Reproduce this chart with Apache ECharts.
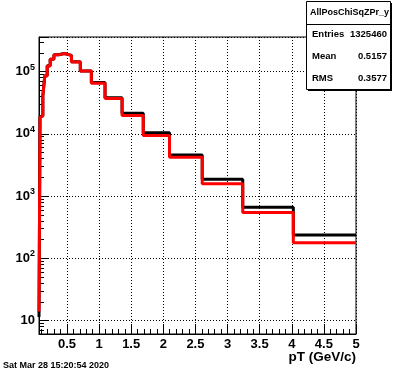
<!DOCTYPE html>
<html>
<head>
<meta charset="utf-8">
<script src="https://cdn.jsdelivr.net/npm/echarts@6/dist/echarts.min.js"></script>
<style>
html, body { margin: 0; padding: 0; background: #fff; }
#chart { width: 396px; height: 372px; }
</style>
</head>
<body>
<div id="chart"></div>
<script>
// bin edges in pT (GeV/c)
const binEdges = [0.065, 0.0808, 0.1004, 0.1247, 0.155, 0.1925, 0.239, 0.297, 0.369, 0.459,
                  0.570, 0.708, 0.880, 1.093, 1.358, 1.688, 2.097, 2.606, 3.237, 4.024, 5.0];
// black histogram
const blackCounts = [11.4, 18600, 19450, 40700, 85500, 123800, 158700, 186400, 195500, 182700,
                     143600, 102200, 66800, 38100, 21400, 10400, 4600, 1860, 663, 238];
// red histogram
const redCounts = [14, 18500, 19400, 40600, 85300, 123500, 158400, 185900, 195000, 182300,
                   143300, 101900, 65300, 37100, 19700, 9400, 4210, 1578, 547, 179];

const histName = 'AllPosChiSqZPr_y';
const statLabels = ['Entries', 'Mean', 'RMS'];
const statValues = ['1325460', '0.5157', '0.3577'];
const xTitle = 'pT (GeV/c)';
const dateStamp = 'Sat Mar 28 15:20:54 2020';

const FONT = 'Liberation Sans, Arial, Helvetica, sans-serif';

// histogram outline: every bin gives a flat segment from its low to its high edge
function steps(counts) {
    const pts = [];
    counts.forEach(function (c, i) {
        pts.push([binEdges[i], c], [binEdges[i + 1], c]);
    });
    return pts;
}

const chart = echarts.init(document.getElementById('chart'));

const statTexts = [];
statLabels.forEach(function (lab, i) {
    const y = 35 + i * 22;
    statTexts.push({
        type: 'text', left: 312, top: y - 6, z: 101,
        style: { text: lab, font: 'bold 9.5px ' + FONT, fill: '#000' }
    });
    statTexts.push({
        type: 'text', right: 9, top: y - 6, z: 101,
        style: { text: statValues[i], font: 'bold 9.5px ' + FONT, fill: '#000', align: 'right' }
    });
});

const option = {
    animation: false,
    backgroundColor: '#fff',
    grid: {
        left: 39, top: 37, width: 317, height: 297,
        outerBoundsMode: 'none',
        containLabel: false,
        show: true, borderColor: '#000', borderWidth: 1
    },
    xAxis: {
        type: 'value',
        min: 0.065,
        max: 5,
        splitNumber: 10,
        axisLine: { show: true, lineStyle: { color: '#000', width: 1 } },
        axisTick: { show: true, inside: true, length: 10, lineStyle: { color: '#000' } },
        minorTick: { show: true, splitNumber: 5, length: 5, lineStyle: { color: '#000' } },
        splitLine: { show: true, lineStyle: { color: '#000', type: [1, 2], width: 1 } },
        axisLabel: {
            showMinLabel: false,
            color: '#000', fontWeight: 'bold', fontSize: 13, fontFamily: FONT, margin: 4
        }
    },
    yAxis: {
        type: 'log',
        logBase: 10,
        min: 6.1,
        max: 360000,
        splitNumber: 5,
        axisLine: { show: true, lineStyle: { color: '#000', width: 1 } },
        axisTick: { show: true, inside: true, length: 10, lineStyle: { color: '#000' } },
        minorTick: { show: true, splitNumber: 9, length: 5, lineStyle: { color: '#000' } },
        splitLine: { show: true, lineStyle: { color: '#000', type: [1, 2], width: 1 } },
        axisLabel: {
            showMinLabel: false,
            showMaxLabel: false,
            margin: 4,
            formatter: function (v) {
                const e = Math.round(Math.log10(v));
                return e === 1 ? '{b|10}' : '{b|10}{s|' + e + '}';
            },
            rich: {
                b: { color: '#000', fontWeight: 'bold', fontSize: 13, fontFamily: FONT },
                s: { color: '#000', fontWeight: 'bold', fontSize: 9, fontFamily: FONT, padding: [0, 0, 9, 0] }
            }
        }
    },
    series: [
        {
            name: 'black',
            type: 'line',
            data: steps(blackCounts),
            showSymbol: false,
            lineStyle: { color: '#000', width: 3 },
            z: 2
        },
        {
            name: 'red',
            type: 'line',
            data: steps(redCounts),
            showSymbol: false,
            lineStyle: { color: '#ff0000', width: 3 },
            z: 3
        }
    ],
    graphic: [
        // stats box with shadow
        { type: 'rect', shape: { x: 308, y: 3, width: 84, height: 88 }, style: { fill: '#000' }, z: 100 },
        { type: 'rect', shape: { x: 306.5, y: 1.5, width: 84, height: 88 },
          style: { fill: '#fff', stroke: '#000', lineWidth: 1 }, z: 100 },
        { type: 'line', shape: { x1: 306.5, y1: 24.5, x2: 390.5, y2: 24.5 },
          style: { stroke: '#000', lineWidth: 1 }, z: 101 },
        { type: 'text', left: 310, top: 8, z: 101,
          style: { text: histName, font: 'bold 9px ' + FONT, fill: '#000' } },
        // x axis title, right-aligned at the frame's right edge
        { type: 'text', right: 40, top: 350, z: 101,
          style: { text: xTitle, font: 'bold 13.5px ' + FONT, fill: '#000', align: 'right' } },
        { type: 'text', left: 3, top: 361, z: 101,
          style: { text: dateStamp, font: 'bold 9px ' + FONT, fill: '#000' } }
    ].concat(statTexts)
};

chart.setOption(option);
</script>
</body>
</html>
